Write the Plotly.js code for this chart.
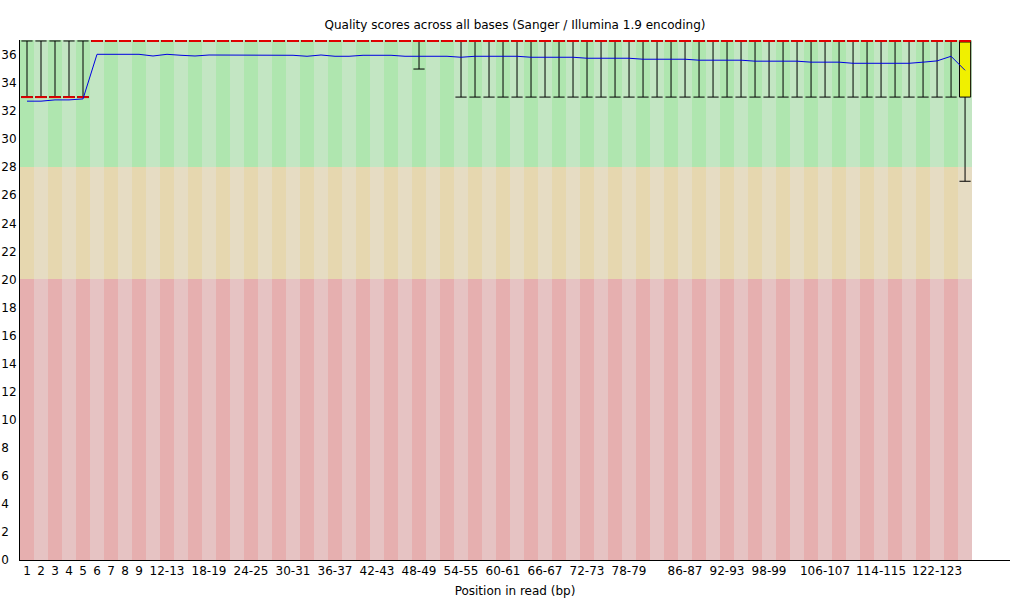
<!DOCTYPE html>
<html>
<head>
<meta charset="utf-8">
<script src="https://cdn.plot.ly/plotly-3.0.1.min.js"></script>
<style>html,body{margin:0;padding:0;background:#fff;}#chart{width:1020px;height:600px;}</style>
</head>
<body>
<div id="chart"></div>
<script>
// Categories: positions in read (bp)
var categories = ['1','2','3','4','5','6','7','8','9',
  '10-11','12-13','14-15','16-17','18-19','20-21','22-23','24-25','26-27','28-29',
  '30-31','32-33','34-35','36-37','38-39','40-41','42-43','44-45','46-47','48-49',
  '50-51','52-53','54-55','56-57','58-59','60-61','62-63','64-65','66-67','68-69',
  '70-71','72-73','74-75','76-77','78-79','80-81','82-83','84-85','86-87','88-89',
  '90-91','92-93','94-95','96-97','98-99','100-101','102-103','104-105','106-107','108-109',
  '110-111','112-113','114-115','116-117','118-119','120-121','122-123','124-125','126'];

// Mean quality per position
var meanQ = [32.71,32.71,32.80,32.80,32.87,36.05,36.05,36.05,36.05,35.93,
  36.05,35.98,35.93,36.00,36.00,35.98,35.98,35.98,35.98,35.98,
  35.91,36.00,35.91,35.91,35.98,35.98,35.98,35.91,35.91,35.91,
  35.91,35.84,35.91,35.91,35.91,35.91,35.84,35.84,35.84,35.84,
  35.77,35.77,35.77,35.77,35.70,35.70,35.70,35.70,35.63,35.63,
  35.63,35.63,35.56,35.56,35.56,35.56,35.49,35.49,35.49,35.41,
  35.41,35.41,35.41,35.41,35.49,35.58,35.91,34.91];

// Median, quartiles and 10th / 90th percentiles
var medianQ = [33,33,33,33,33,37,37,37,37,37, 37,37,37,37,37,37,37,37,37,37,
  37,37,37,37,37,37,37,37,37,37, 37,37,37,37,37,37,37,37,37,37,
  37,37,37,37,37,37,37,37,37,37, 37,37,37,37,37,37,37,37,37,37,
  37,37,37,37,37,37,37,37];
var lowerQuartile = [33,33,33,33,33,37,37,37,37,37, 37,37,37,37,37,37,37,37,37,37,
  37,37,37,37,37,37,37,37,37,37, 37,37,37,37,37,37,37,37,37,37,
  37,37,37,37,37,37,37,37,37,37, 37,37,37,37,37,37,37,37,37,37,
  37,37,37,37,37,37,37,33];
var upperQuartile = [33,33,33,33,33,37,37,37,37,37, 37,37,37,37,37,37,37,37,37,37,
  37,37,37,37,37,37,37,37,37,37, 37,37,37,37,37,37,37,37,37,37,
  37,37,37,37,37,37,37,37,37,37, 37,37,37,37,37,37,37,37,37,37,
  37,37,37,37,37,37,37,37];
var percentile10 = [33,33,33,33,33,37,37,37,37,37, 37,37,37,37,37,37,37,37,37,37,
  37,37,37,37,37,37,37,37,35,37, 37,33,33,33,33,33,33,33,33,33,
  33,33,33,33,33,33,33,33,33,33, 33,33,33,33,33,33,33,33,33,33,
  33,33,33,33,33,33,33,27];
var percentile90 = [37,37,37,37,37,37,37,37,37,37, 37,37,37,37,37,37,37,37,37,37,
  37,37,37,37,37,37,37,37,37,37, 37,37,37,37,37,37,37,37,37,37,
  37,37,37,37,37,37,37,37,37,37, 37,37,37,37,37,37,37,37,37,37,
  37,37,37,37,37,37,37,37];

// Quality zones (bad / ok / good) and their alternating stripe colours
var zoneBase = [0, 20, 28];
var zoneTop  = [20, 28, 40];
var zoneColorsDark  = ['rgb(230,175,175)', 'rgb(230,215,175)', 'rgb(175,230,175)'];
var zoneColorsLight = ['rgb(230,195,195)', 'rgb(230,220,195)', 'rgb(195,230,195)'];

// Tick labels
var xTickLabels = ['1','2','3','4','5','6','7','8','9','12-13','18-19','24-25','30-31',
  '36-37','42-43','48-49','54-55','60-61','66-67','72-73','78-79','86-87','92-93',
  '98-99','106-107','114-115','122-123'];
var yTickVals = [0,2,4,6,8,10,12,14,16,18,20,22,24,26,28,30,32,34,36];

var FONT = 'DejaVu Sans, Verdana, sans-serif';
var traces = [];

zoneBase.forEach(function(b, z) {
  traces.push({
    type: 'bar',
    x: categories,
    y: categories.map(function(){ return zoneTop[z] - b; }),
    base: categories.map(function(){ return b; }),
    width: 1,
    marker: {
      color: categories.map(function(c, i){ return i % 2 === 0 ? zoneColorsDark[z] : zoneColorsLight[z]; }),
      line: {width: 0}
    },
    hoverinfo: 'skip',
    showlegend: false
  });
});

traces.push({
  type: 'box',
  x: categories,
  q1: lowerQuartile,
  median: medianQ,
  q3: upperQuartile,
  lowerfence: percentile10,
  upperfence: percentile90,
  boxpoints: false,
  fillcolor: 'rgb(240,240,0)',
  line: {color: '#000000', width: 1},
  whiskerwidth: 1,
  hoverinfo: 'skip',
  showlegend: false
});

traces.push({
  type: 'scatter',
  mode: 'markers',
  x: categories,
  y: medianQ,
  marker: {symbol: 'line-ew', size: 8.2, color: 'rgb(225,0,0)', line: {color: 'rgb(225,0,0)', width: 2}},
  cliponaxis: false,
  hoverinfo: 'skip',
  showlegend: false
});

traces.push({
  type: 'scatter',
  mode: 'lines',
  x: categories,
  y: meanQ,
  line: {color: 'rgb(0,0,225)', width: 1},
  hoverinfo: 'skip',
  showlegend: false
});

var layout = {
  width: 1020,
  height: 600,
  margin: {l: 20, r: 10, t: 40, b: 40, pad: 0},
  paper_bgcolor: '#ffffff',
  plot_bgcolor: '#ffffff',
  font: {family: FONT, size: 12, color: '#000000'},
  title: {
    text: 'Quality scores across all bases (Sanger / Illumina 1.9 encoding)',
    font: {family: FONT, size: 12, color: '#000000'},
    x: 0.5, xref: 'paper', xanchor: 'center',
    y: 0.958, yref: 'container', yanchor: 'middle'
  },
  barmode: 'overlay',
  bargap: 0,
  boxgap: 0.2,
  boxgroupgap: 0,
  boxmode: 'overlay',
  hovermode: false,
  showlegend: false,
  xaxis: {
    type: 'category',
    categoryorder: 'array',
    categoryarray: categories,
    range: [-0.5, 70.21],
    tickmode: 'array',
    tickvals: xTickLabels,
    ticktext: xTickLabels,
    ticks: '',
    showgrid: false,
    zeroline: false,
    showline: true,
    linecolor: '#000000',
    linewidth: 1,
    tickfont: {family: FONT, size: 12, color: '#000000'},
    automargin: false,
    title: {text: 'Position in read (bp)', font: {family: FONT, size: 12, color: '#000000'}, standoff: 9}
  },
  yaxis: {
    range: [0, 37.07],
    tickmode: 'array',
    tickvals: yTickVals,
    ticktext: yTickVals.map(function(v){ return v < 10 ? v + '\u2007' : String(v); }),
    ticks: '',
    showgrid: false,
    zeroline: false,
    showline: true,
    linecolor: '#000000',
    linewidth: 1,
    tickfont: {family: FONT, size: 12, color: '#000000'},
    automargin: false,
    fixedrange: true
  }
};

Plotly.newPlot('chart', traces, layout, {displayModeBar: false, staticPlot: true});
</script>
</body>
</html>
